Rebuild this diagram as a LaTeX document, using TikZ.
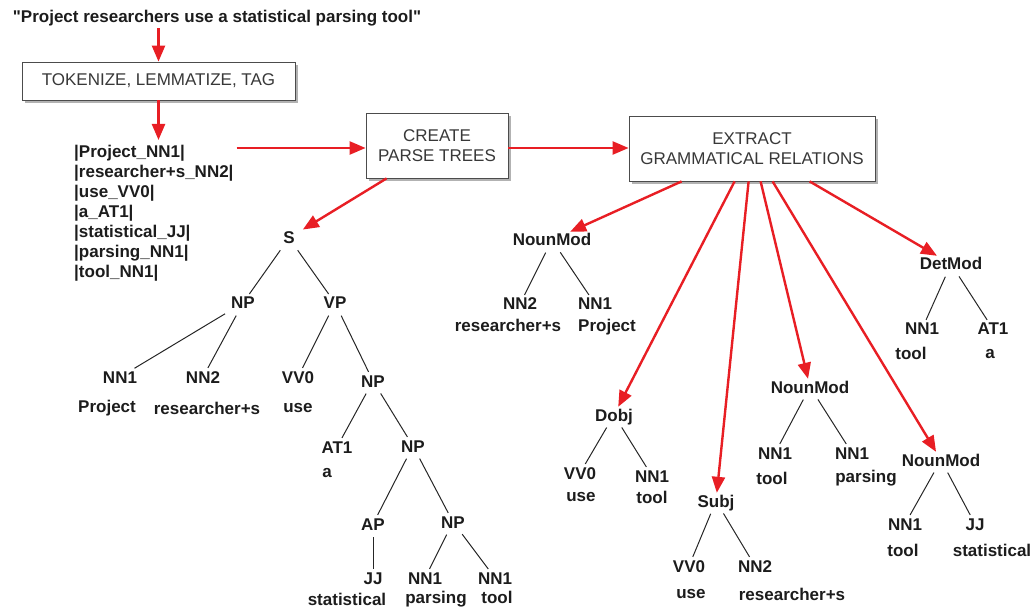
\documentclass[tikz,border=0pt]{standalone}
\usepackage{fontspec}
\setmainfont{Liberation Sans}[Ligatures=TeXOff]
\usetikzlibrary{arrows.meta,shadows,calc}
\definecolor{arrred}{RGB}{232,30,36}
\definecolor{txt}{RGB}{28,28,28}
\begin{document}
\begin{tikzpicture}[x=1pt,y=-1pt,
  lab/.style={font=\fontsize{17}{20}\selectfont\bfseries, text=txt, inner sep=2pt, text height=12pt, text depth=0pt},
  word/.style={font=\fontsize{17}{20}\selectfont\bfseries, text=txt, inner sep=2pt},
  box/.style={draw=black!70, line width=0.8pt, fill=white, inner sep=0pt,
    font=\fontsize{17}{20}\selectfont, text=black!78, align=center,
    drop shadow={shadow xshift=3pt, shadow yshift=-3pt, fill=black!60}},
  redarrow/.style={draw=arrred, line width=2.4pt, -{Triangle[length=16pt,width=13pt]}},
  branch/.style={draw=black!85, line width=1pt, shorten <=5pt, shorten >=1pt}]
\useasboundingbox (0,0) rectangle (1033,609);

% pipeline
\node[word] (quote) at (217,18) {"Project researchers use a statistical parsing tool"};
\node[box, minimum width=273pt, minimum height=38pt] (tok) at (158.5,81) {TOKENIZE, LEMMATIZE, TAG};
\node[word, align=left, anchor=north west, inner sep=0pt,
  font=\fontsize{17}{20}\selectfont\bfseries] (list) at (74,145)
  {|Project\_NN1|\\|researcher+s\_NN2|\\|use\_VV0|\\|a\_AT1|\\|statistical\_JJ|\\|parsing\_NN1|\\|tool\_NN1|};
\node[box, minimum width=142pt, minimum height=65pt] (create) at (437,145.5) {CREATE\\PARSE TREES};
\node[box, minimum width=246pt, minimum height=65pt] (extract) at (752,148.5) {EXTRACT\\GRAMMATICAL RELATIONS};
\coordinate (lc) at ($(list.north east)+(3,3)$);

\draw[redarrow] (quote.south -| tok.north) -- (tok.north);
\draw[redarrow, shorten >=5pt] (tok.south) -- (tok.south |- list.north);
\draw[redarrow] (lc) -- (lc -| create.west);
\draw[redarrow] (create.east |- lc) -- (extract.west |- lc);

% left parse tree
\node[lab] (S) at (289,238) {S};
\node[lab] (np1) at (243,303) {NP};
\node[lab] (vp) at (335,303) {VP};
\node[lab] (nn1a) at (120,377) {NN1};
\node[lab] (nn2a) at (203,377) {NN2};
\node[lab] (vv0a) at (298,377) {VV0};
\node[lab] (np2) at (373,381) {NP};
\node[word] (wproject) at (107,408) {Project};
\node[word] (wresearch) at (207,408) {researcher+s};
\node[word] (wuse) at (298,408) {use};
\node[lab] (at1) at (337,447) {AT1};
\node[lab] (np3) at (413,446) {NP};
\node[word] (wa) at (327,473) {a};
\node[lab] (ap) at (373,524) {AP};
\node[lab] (np4) at (453,522) {NP};
\node[lab] (jj) at (373,578) {JJ};
\node[lab] (nn1b) at (425,578) {NN1};
\node[lab] (nn1c) at (495,578) {NN1};
\node[word] (wstat) at (347,599) {statistical};
\node[word] (wpars) at (436,599) {parsing};
\node[word] (wtool) at (497,597) {tool};

\draw[redarrow, shorten >=7pt] ($(create.south west)+(21,0)$) -- (S);

\draw[branch] (S) -- (np1);
\draw[branch] (S) -- (vp);
\draw[branch] (np1) -- (nn1a);
\draw[branch] (np1) -- (nn2a);
\draw[branch] (vp) -- (vv0a);
\draw[branch] (vp) -- (np2);
\draw[branch] (np2) -- (at1);
\draw[branch] (np2) -- (np3);
\draw[branch] (np3) -- (ap);
\draw[branch] (np3) -- (np4);
\draw[branch] (ap) -- (jj);
\draw[branch] (np4) -- (nn1b);
\draw[branch] (np4) -- (nn1c);

% grammatical relations
\node[lab] (nm1) at (552,240) {NounMod};
\node[lab] (nm1a) at (520,304) {NN2};
\node[lab] (nm1b) at (595,304) {NN1};
\node[word] (nm1aw) at (508,325) {researcher+s};
\node[word] (nm1bw) at (607,327) {Project};

\node[lab] (det) at (951,264) {DetMod};
\node[lab] (deta) at (922,329) {NN1};
\node[lab] (detb) at (993,329) {AT1};
\node[word] (detaw) at (911,353) {tool};
\node[word] (detbw) at (990,354) {a};

\node[lab] (dobj) at (614,415) {Dobj};
\node[lab] (dobja) at (580,473) {VV0};
\node[lab] (dobjb) at (652,476) {NN1};
\node[word] (dobjaw) at (581,497) {use};
\node[word] (dobjbw) at (652,497) {tool};

\node[lab] (subj) at (716,501) {Subj};
\node[lab] (subja) at (689,566) {VV0};
\node[lab] (subjb) at (755,566) {NN2};
\node[word] (subjaw) at (691,594) {use};
\node[word] (subjbw) at (792,594) {researcher+s};

\node[lab] (nm2) at (810,387) {NounMod};
\node[lab] (nm2a) at (775,453) {NN1};
\node[lab] (nm2b) at (852,453) {NN1};
\node[word] (nm2aw) at (772,478) {tool};
\node[word] (nm2bw) at (866,478) {parsing};

\node[lab] (nm3) at (941,460) {NounMod};
\node[lab] (nm3a) at (905,524) {NN1};
\node[lab] (nm3b) at (975,524) {JJ};
\node[word] (nm3aw) at (903,550) {tool};
\node[word] (nm3bw) at (992,550) {statistical};

\draw[redarrow] ($(extract.south west)+(53,0)$) -- (nm1);
\draw[redarrow] ($(extract.south west)+(106,0)$) -- (dobj);
\draw[redarrow] ($(extract.south west)+(120,0)$) -- (subj);
\draw[redarrow] ($(extract.south west)+(132,0)$) -- (nm2);
\draw[redarrow] ($(extract.south west)+(144,0)$) -- (nm3);
\draw[redarrow] ($(extract.south west)+(181,0)$) -- (det);

\foreach \p/\c in {nm1/nm1a,nm1/nm1b,det/deta,det/detb,dobj/dobja,dobj/dobjb,
  subj/subja,subj/subjb,nm2/nm2a,nm2/nm2b,nm3/nm3a,nm3/nm3b}
  \draw[branch] (\p) -- (\c);
\end{tikzpicture}
\end{document}
